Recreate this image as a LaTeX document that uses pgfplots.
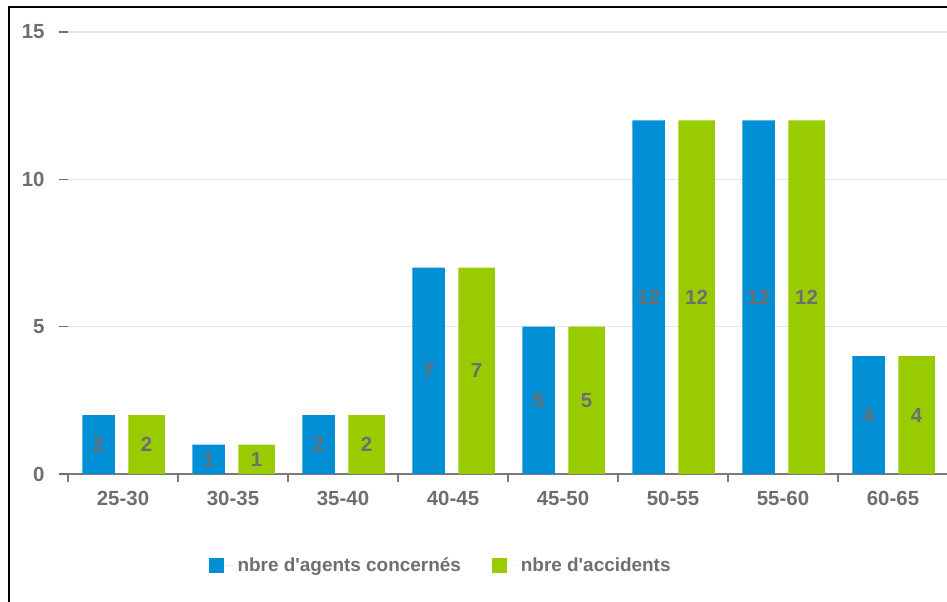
\documentclass[border=0pt]{standalone}
\usepackage{pgfplots}
\pgfplotsset{compat=1.18}
\usepackage{fontspec}
\setmainfont{Liberation Sans}
\definecolor{cblue}{HTML}{008FD5}
\definecolor{cgreen}{HTML}{99CC00}
\definecolor{ctext}{HTML}{6E6E6E}
\definecolor{cgrid}{HTML}{E6E6E6}
\definecolor{caxis}{HTML}{7A7A7A}
\newcommand{\lblfont}{\fontsize{20.5}{24}\selectfont\bfseries}
\newcommand{\legfont}{\fontsize{19}{22}\selectfont\bfseries}
\begin{document}
\begin{tikzpicture}[x=1bp,y=1bp]
\path[use as bounding box] (0,0) rectangle (947,602);
\draw[black, line width=1.5bp] (9,0) -- (9,595) -- (947,595);
\begin{axis}[
  at={(68bp,128bp)}, anchor=south west,
  scale only axis, width=880bp, height=442bp,
  xmin=-0.5, xmax=7.5, ymin=0, ymax=15,
  clip=false,
  ytick={0,5,10,15},
  xtick={0,...,7},
  xticklabels={25-30,30-35,35-40,40-45,45-50,50-55,55-60,60-65},
  minor xtick={-0.5,0.5,...,7.5},
  axis x line*=bottom, axis y line*=left,
  x axis line style={caxis, line width=2bp, -},
  y axis line style={draw=none},
  ymajorgrids, grid style={cgrid, line width=1.5bp},
  tick align=outside,
  major x tick style={draw=none},
  minor x tick style={caxis, line width=1.5bp},
  minor tick length=8bp,
  major tick length=9bp,
  y tick style={ctext, line width=1.3bp},
  tick label style={font=\lblfont, text=ctext},
  /pgf/number format/assume math mode=true,
  yticklabel style={xshift=-11bp},
  xticklabel style={yshift=-5bp},
  legend style={at={(0.4234,-0.2059)}, anchor=center, draw=none, fill=none,
    legend columns=2, font=\legfont, text=ctext,
    /tikz/every even column/.append style={column sep=29bp}},
  sqleg/.style={legend image code/.code={\fill[##1] (0bp,-7.5bp) rectangle (15bp,7.5bp); \path (0bp,0bp) -- (27bp,0bp);}},
  visualization depends on={y \as \rawy},
  every node near coord/.append style={anchor=center, font=\lblfont, text=ctext,
    shift={(axis direction cs:0,-\rawy/2)}},
]
\addplot[ybar, fill=cblue, draw=none, bar width=32.5bp, bar shift=-24.5bp, nodes near coords,
  nodes near coords style={xshift=-24.5bp}, sqleg]
  coordinates {(0,2) (1,1) (2,2) (3,7) (4,5) (5,12) (6,12) (7,4)};
\addlegendentry{nbre d\textquotesingle agents concernés}
\addplot[ybar, fill=cgreen, draw=none, bar width=36.5bp, bar shift=23.5bp, nodes near coords,
  nodes near coords style={xshift=23.5bp}, sqleg]
  coordinates {(0,2) (1,1) (2,2) (3,7) (4,5) (5,12) (6,12) (7,4)};
\addlegendentry{nbre d\textquotesingle accidents}
\end{axis}
\end{tikzpicture}
\end{document}
